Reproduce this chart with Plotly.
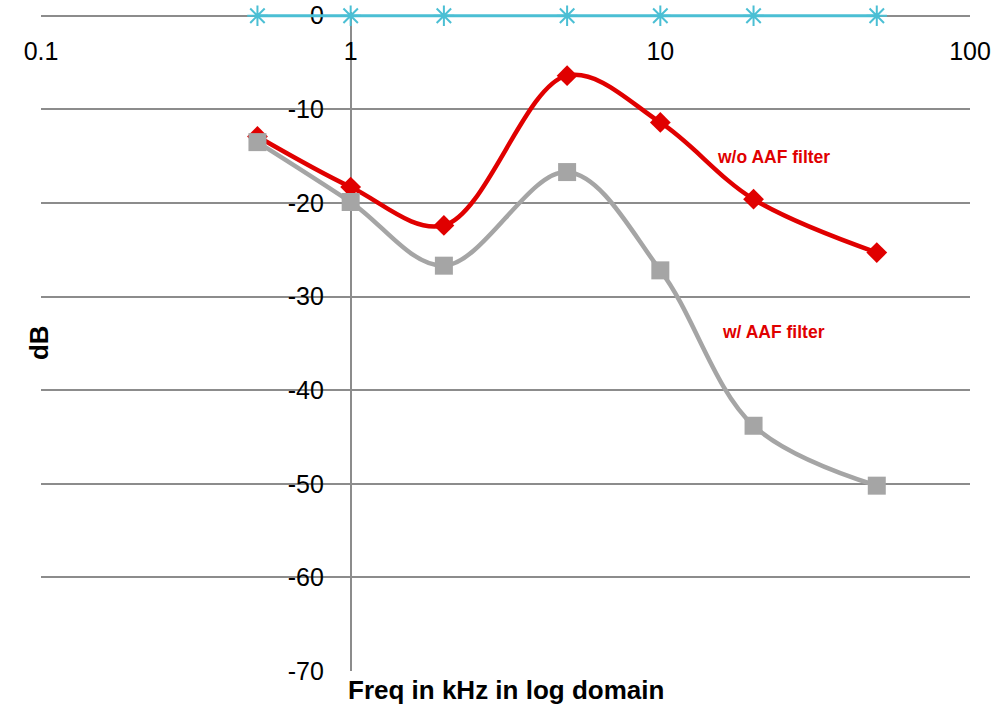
import plotly.graph_objects as go

freq = [0.5, 1, 2, 5, 10, 20, 50]
wo_aaf = [-12.9, -18.3, -22.4, -6.4, -11.4, -19.6, -25.3]
w_aaf = [-13.5, -19.9, -26.7, -16.7, -27.2, -43.8, -50.2]
ref0 = [0, 0, 0, 0, 0, 0, 0]
x_ticks = [0.1, 1, 10, 100]
x_tick_text = ["0.1", "1", "10", "100"]
y_ticks = [0, -10, -20, -30, -40, -50, -60, -70]
y_tick_text = ["0", "-10", "-20", "-30", "-40", "-50", "-60", "-70"]
y_min, y_max, y_top_pad = -70, 0, 0.4

RED = "#E00000"
GRAY = "#A5A5A5"
CYAN = "#4BBFD4"
AXIS = "#8C8C8C"
FONT = "Liberation Sans, Arial, sans-serif"

fig = go.Figure()
fig.add_trace(go.Scatter(
    x=freq, y=wo_aaf, mode="lines+markers", line=dict(color=RED, width=4.5, shape="spline", smoothing=1.0),
    marker=dict(symbol="diamond", size=16, color=RED), cliponaxis=False, showlegend=False))
fig.add_trace(go.Scatter(
    x=freq, y=w_aaf, mode="lines+markers", line=dict(color=GRAY, width=4.5, shape="spline", smoothing=1.0),
    marker=dict(symbol="square", size=18, color=GRAY), cliponaxis=False, showlegend=False))
fig.add_trace(go.Scatter(
    x=freq, y=ref0, mode="lines+markers", line=dict(color=CYAN, width=3),
    marker=dict(symbol="asterisk-open", size=17, color=CYAN, line=dict(color=CYAN, width=2)),
    cliponaxis=False, showlegend=False))

fig.add_annotation(x=1.367, y=-15.1, xref="x", yref="y", text="<b>w/o AAF filter</b>", showarrow=False,
                   font=dict(family=FONT, size=17.5, color=RED))
fig.add_annotation(x=1.367, y=-33.8, xref="x", yref="y", text="<b>w/ AAF filter</b>", showarrow=False,
                   font=dict(family=FONT, size=17.5, color=RED))
fig.add_annotation(x=-0.0205, y=0.499, xref="paper", yref="paper", text="<b>dB</b>", showarrow=False,
                   textangle=-90, font=dict(family=FONT, size=26, color="black"))
fig.add_annotation(x=0.5, y=-0.029, xref="paper", yref="paper", yanchor="middle",
                   text="<b>Freq in kHz in log domain</b>", showarrow=False,
                   font=dict(family=FONT, size=26, color="black"))

fig.update_layout(
    width=994, height=708,
    margin=dict(l=41, r=24, t=12, b=37, autoexpand=False),
    paper_bgcolor="white", plot_bgcolor="white",
    font=dict(family=FONT, size=25, color="black"),
    xaxis=dict(type="log", range=[-1, 2], tickvals=x_ticks, ticktext=x_tick_text,
               anchor="free", position=(y_max - y_min) / (y_max + y_top_pad - y_min),
               side="bottom", showgrid=False, zeroline=False, layer="below traces",
               showline=True, linecolor=AXIS, linewidth=1.5, ticks="", ticklabelstandoff=14,
               automargin=False, tickfont=dict(family=FONT, size=25, color="black")),
    yaxis=dict(range=[y_min, y_max + y_top_pad], tickvals=y_ticks, ticktext=y_tick_text,
               anchor="free", position=1/3, layer="below traces",
               showgrid=True, gridcolor=AXIS, gridwidth=1.5, zeroline=False,
               showline=True, linecolor=AXIS, linewidth=1.5, ticks="", ticklabelstandoff=21,
               automargin=False, tickfont=dict(family=FONT, size=25, color="black")),
)

fig.write_html("out.html")
